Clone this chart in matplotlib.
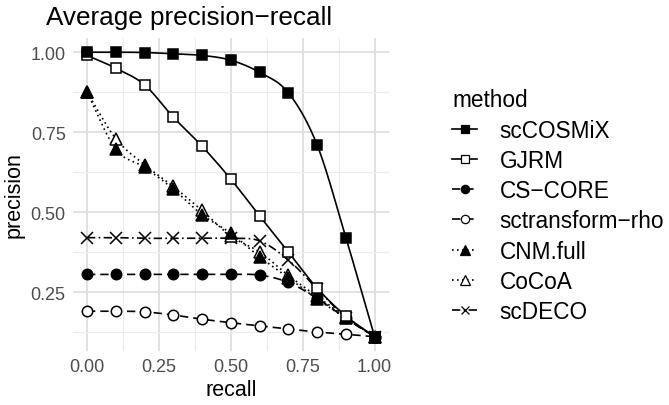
import numpy as np
import matplotlib
matplotlib.use("Agg")
import matplotlib.pyplot as plt

plt.rcParams['font.family'] = ['Liberation Sans', 'DejaVu Sans']

# -----------------------------
# Data
# -----------------------------
recall = [0.0, 0.1, 0.2, 0.3, 0.4, 0.5, 0.6, 0.7, 0.8, 0.9, 1.0]

methods = ["scCOSMiX", "GJRM", "CS\u2212CORE", "sctransform\u2212rho",
           "CNM.full", "CoCoA", "scDECO"]

sccosmix = [1.0, 1.0, 0.999, 0.995, 0.99, 0.975, 0.937, 0.873, 0.71, 0.42, 0.11]
gjrm = [0.99, 0.95, 0.898, 0.797, 0.706, 0.603, 0.488, 0.375, 0.262, 0.175, 0.11]
cscore = [0.305, 0.305, 0.305, 0.305, 0.305, 0.305, 0.303, 0.28, 0.23, 0.168, 0.11]
sctransform = [0.19, 0.19, 0.188, 0.178, 0.165, 0.154, 0.144, 0.134, 0.125, 0.118, 0.11]
cnm_full = [0.875, 0.697, 0.64, 0.572, 0.492, 0.434, 0.36, 0.295, 0.228, 0.168, 0.11]
cocoa = [0.875, 0.73, 0.648, 0.58, 0.505, 0.425, 0.375, 0.302, 0.236, 0.172, 0.11]
scdeco = [0.42, 0.42, 0.418, 0.418, 0.418, 0.418, 0.41, 0.35, 0.26, 0.17, 0.11]

series = [sccosmix, gjrm, cscore, sctransform, cnm_full, cocoa, scdeco]

# -----------------------------
# Styles
# -----------------------------
styles = [
    dict(marker='s', mfc='black', ls='-', ms=7.5),
    dict(marker='s', mfc='white', ls='-', ms=7.5),
    dict(marker='o', mfc='black', ls=(0, (5, 3)), ms=7.5),
    dict(marker='o', mfc='white', ls=(0, (5, 3)), ms=7.5),
    dict(marker='^', mfc='black', ls=(0, (1, 2)), ms=9),
    dict(marker='^', mfc='white', ls=(0, (1, 2)), ms=9),
    dict(marker='x', mfc='black', ls=(0, (5, 2, 1, 2)), ms=8),
]
# drawing order (CoCoA under CNM.full)
draw_order = [6, 5, 4, 3, 2, 1, 0]


def smooth(x, y, n=20):
    # Catmull-Rom spline through the points
    x = np.asarray(x, float)
    y = np.asarray(y, float)
    px = np.concatenate([[2 * x[0] - x[1]], x, [2 * x[-1] - x[-2]]])
    py = np.concatenate([[2 * y[0] - y[1]], y, [2 * y[-1] - y[-2]]])
    xs, ys = [], []
    t = np.linspace(0, 1, n, endpoint=False)
    for i in range(1, len(px) - 2):
        for p, out in ((px, xs), (py, ys)):
            p0, p1, p2, p3 = p[i - 1], p[i], p[i + 1], p[i + 2]
            out.append(0.5 * (2 * p1 + (-p0 + p2) * t
                              + (2 * p0 - 5 * p1 + 4 * p2 - p3) * t ** 2
                              + (-p0 + 3 * p1 - 3 * p2 + p3) * t ** 3))
    xs.append([x[-1]])
    ys.append([y[-1]])
    return np.concatenate(xs), np.concatenate(ys)


fig = plt.figure(figsize=(6.69, 4.06), dpi=100)
ax = fig.add_axes([0.1085, 0.133, 0.473, 0.771])

handles = [None] * len(methods)
for i in draw_order:
    name, vals, st = methods[i], series[i], styles[i]
    sx, sy = smooth(recall, vals)
    ax.plot(sx, sy, color='black', lw=1.2, ls=st['ls'], zorder=2)
    ax.plot(recall, vals, ls='none', marker=st['marker'], ms=st['ms'],
            mfc=st['mfc'], mec='black', mew=1.1, zorder=3 + (6 - i) * 0.01)
    h, = ax.plot([], [], color='black', lw=1.2, ls=st['ls'],
                 marker=st['marker'], ms=st['ms'] * 0.8, mfc=st['mfc'],
                 mec='black', mew=0.9)
    handles[i] = h

ax.set_xlim(-0.05, 1.05)
ax.set_ylim(0.0655, 1.0445)
ax.set_xticks([0, 0.25, 0.5, 0.75, 1.0])
ax.set_xticklabels(["0.00", "0.25", "0.50", "0.75", "1.00"])
ax.set_yticks([0.25, 0.5, 0.75, 1.0])
ax.set_yticklabels(["0.25", "0.50", "0.75", "1.00"])
ax.set_xticks([0.125, 0.375, 0.625, 0.875], minor=True)
ax.set_yticks([0.125, 0.375, 0.625, 0.875], minor=True)
ax.grid(True, which='major', color='#dedede', lw=1.3)
ax.grid(True, which='minor', color='#ececec', lw=0.8)
ax.set_axisbelow(True)
for s in ax.spines.values():
    s.set_visible(False)
ax.tick_params(which='both', length=0, labelsize=13, labelcolor='#4d4d4d', pad=5)

ax.set_xlabel("recall", fontsize=15.5, labelpad=3)
ax.set_ylabel("precision", fontsize=15.5, labelpad=4)
fig.text(0.069, 0.938, "Average precision\u2212recall", fontsize=18.8, va='baseline')

leg = fig.legend(handles, methods, loc='upper left', bbox_to_anchor=(0.676, 0.78),
                 frameon=False, fontsize=16.3, title="method", title_fontsize=16.3,
                 handlelength=1.1, handletextpad=1.0, labelspacing=0.32,
                 borderpad=0, borderaxespad=0, alignment='left')

fig.savefig("out.png", dpi=100)
